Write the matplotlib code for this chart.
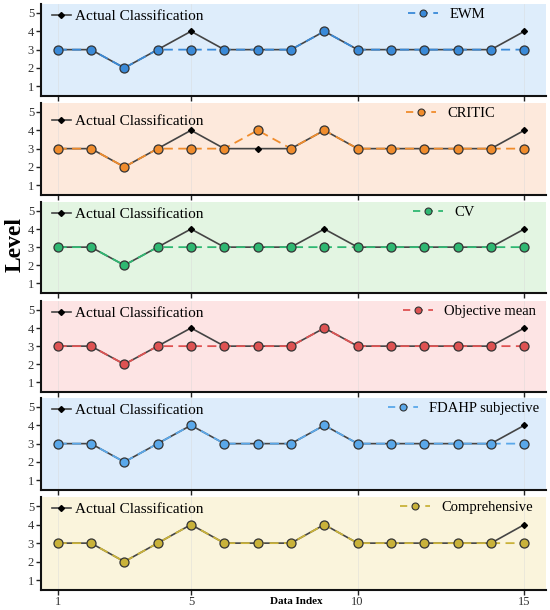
import matplotlib
matplotlib.use("Agg")
import matplotlib.pyplot as plt
import numpy as np

x_index = list(range(1, 16))
actual = [3, 3, 2, 3, 4, 3, 3, 3, 4, 3, 3, 3, 3, 3, 4]
ewm = [3, 3, 2, 3, 3, 3, 3, 3, 4, 3, 3, 3, 3, 3, 3]
critic = [3, 3, 2, 3, 3, 3, 4, 3, 4, 3, 3, 3, 3, 3, 3]
cv = [3, 3, 2, 3, 3, 3, 3, 3, 3, 3, 3, 3, 3, 3, 3]
obj_mean = [3, 3, 2, 3, 3, 3, 3, 3, 4, 3, 3, 3, 3, 3, 3]
fdahp = [3, 3, 2, 3, 4, 3, 3, 3, 4, 3, 3, 3, 3, 3, 3]
comprehensive = [3, 3, 2, 3, 4, 3, 3, 3, 4, 3, 3, 3, 3, 3, 3]

model_names = ["EWM", "CRITIC", "CV", "Objective mean", "FDAHP subjective", "Comprehensive"]
model_values = [ewm, critic, cv, obj_mean, fdahp, comprehensive]
line_colors = ["#3a8ad8", "#f08c2c", "#2fb872", "#de5252", "#5aa8ea", "#c9b23a"]
bg_colors = ["#deedfb", "#fde9dc", "#e3f5e2", "#fde4e4", "#ddecfb", "#faf4dc"]
x_ticks = [1, 5, 10, 15]
y_ticks = [1, 2, 3, 4, 5]

plt.rcParams['font.family'] = ['Liberation Serif', 'DejaVu Serif']

W, H = 550, 610
fig = plt.figure(figsize=(5.5, 6.1), dpi=100)
left_px, right_px = 41, 546
panel_tops = [4, 103, 202, 301, 398, 497]
panel_bottoms = [96, 195, 293, 392, 490, 590]
# vertical position (px below panel top) of the "Actual Classification" legend text
actual_leg_dy = [11, 17, 11, 11, 11, 11]
# legend handle start positions (pixels) per panel
leg_x_px = [404, 402, 409, 399, 384, 396]

axes = []
for t, b in zip(panel_tops, panel_bottoms):
    ax = fig.add_axes([left_px / W, 1 - b / H, (right_px - left_px) / W, (b - t) / H])
    axes.append(ax)

for i, ax in enumerate(axes):
    h_px = panel_bottoms[i] - panel_tops[i]
    ax.set_facecolor(bg_colors[i])
    for xt in x_ticks:
        ax.axvline(xt, color="#d8d8d8", lw=0.5, alpha=0.6, zorder=0)
    h1, = ax.plot(x_index, actual, color="#444444", lw=1.2, marker="D", markersize=3,
                  markerfacecolor="black", markeredgecolor="black", zorder=2,
                  label="Actual Classification")
    h2, = ax.plot(x_index, model_values[i], color=line_colors[i], lw=1.3, ls=(0, (5, 3)),
                  marker="o", markersize=6.5, markerfacecolor=line_colors[i],
                  markeredgecolor="#333333", markeredgewidth=0.9, zorder=3,
                  label=model_names[i])
    ax.set_xlim(0.5, 15.65)
    ax.set_ylim(0.47, 5.49)
    ax.set_yticks(y_ticks)
    ax.set_xticks(x_ticks)
    ax.tick_params(axis="both", labelsize=9, labelcolor="#333333", length=3.5, width=1,
                   color="#222222", pad=1.5)
    ax.tick_params(axis="x", pad=0.8)
    if i < 5:
        ax.set_xticklabels([])
    for s in ["top", "right"]:
        ax.spines[s].set_visible(False)
    for s in ["left", "bottom"]:
        ax.spines[s].set_linewidth(1.5)
        ax.spines[s].set_color("#111111")
    ay = 1 + (19.35 - actual_leg_dy[i]) / h_px
    leg1 = ax.legend(handles=[h1], loc="upper left", bbox_to_anchor=(-0.005, ay),
                     frameon=False, fontsize=11, handlelength=1.2, handletextpad=0.3)
    ax.add_artist(leg1)
    h2l, = ax.plot([], [], color=line_colors[i], lw=1.3, ls=(0, (4, 3)), marker="o",
                   markersize=5, markerfacecolor=line_colors[i], markeredgecolor="#333333",
                   markeredgewidth=0.8)
    bx = (leg_x_px[i] - left_px) / (right_px - left_px)
    ax.legend(handles=[h2l], labels=[model_names[i]], loc="upper left",
              bbox_to_anchor=(bx, 1 + 0.45 / h_px), frameon=False, fontsize=10.5,
              handlelength=2.0, handletextpad=0.8, borderaxespad=0, borderpad=0.3)

fig.text(15 / W, 1 - 245 / H, "Level", rotation=90, ha="center", va="center",
         fontsize=17, fontweight="bold")
fig.text(296 / W, 1 - 601 / H, "Data Index", ha="center", va="center",
         fontsize=8, fontweight="bold")

fig.savefig("out.png", dpi=100)
